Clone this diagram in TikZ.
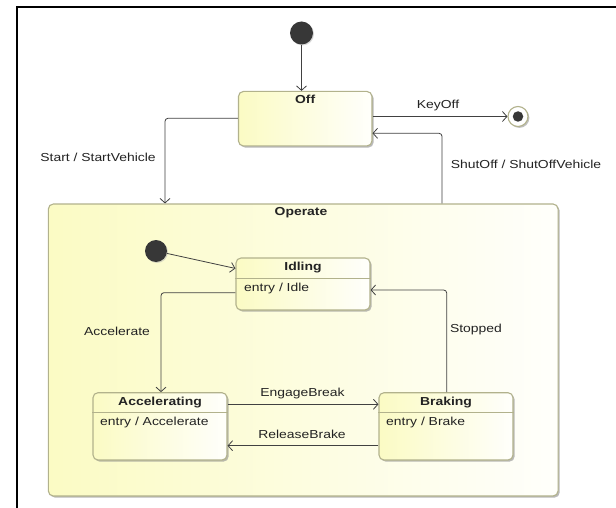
\documentclass[tikz,border=0pt]{standalone}
\usepackage{fontspec}
\setmainfont{Liberation Sans}[FakeStretch=1.2]
\usetikzlibrary{arrows.meta,shadows,calc}
\definecolor{stfill}{RGB}{251,251,196}
\definecolor{stline}{RGB}{178,178,140}
\definecolor{ink}{RGB}{65,65,65}
\definecolor{txt}{RGB}{35,35,35}
\definecolor{dotc}{RGB}{55,55,55}
\begin{document}
\begin{tikzpicture}[x=1pt,y=-1pt,
  statebox/.style={draw=stline, line width=1.1pt, rounded corners=5pt,
    left color=stfill, right color=white!94!stfill,
    drop shadow={shadow xshift=1.6pt, shadow yshift=-1.6pt, fill=black!45, opacity=0.6},
    inner sep=0pt},
  sepline/.style={draw=stline, line width=1pt},
  trans/.style={draw=ink, line width=0.8pt, rounded corners=3pt,
    -{Straight Barb[length=4.5pt,width=10pt,line width=0.8pt]}},
  lbl/.style={font=\fontsize{11.6}{14}\selectfont, text=txt, inner sep=0pt},
  ttl/.style={font=\fontsize{11.6}{14}\selectfont\bfseries, text=txt, inner sep=0pt, anchor=mid},
  entrytxt/.style={font=\fontsize{11.6}{14}\selectfont, text=txt, inner sep=0pt, anchor=mid west},
  initdot/.style={circle, fill=dotc, inner sep=0pt, minimum size=23pt,
    drop shadow={shadow xshift=1pt, shadow yshift=-1pt, fill=black!30, opacity=0.5}},
]
\useasboundingbox (0,0) rectangle (616,508);
\fill[white] (0,0) rectangle (616,508);
% frame
\draw[line width=2pt] (17,509) -- (17,7.5) -- (617,7.5);

% top-level states
\node[initdot] (i0) at (301.5,33) {};
\node[statebox, minimum width=133.5pt, minimum height=54.5pt] (off) at (305.2,118.7) {};
\node[ttl] (offT) at (305.2,101) {Off};
\node[circle, draw=stline, line width=1.1pt, fill=white, inner sep=0pt, minimum size=20pt,
  drop shadow={shadow xshift=1.4pt, shadow yshift=-1.4pt, fill=black!40, opacity=0.6}] (fin) at (518,116.5) {};
\node[circle, fill=dotc, inner sep=0pt, minimum size=10.5pt] (finIn) at (fin) {};

% composite state
\node[statebox, minimum width=509.7pt, minimum height=292pt] (op) at (303.2,350) {};
\node[ttl] (opT) at (301,213) {Operate};

\node[initdot, minimum size=22pt] (i1) at (156,251) {};

% Idling
\node[statebox, minimum width=134pt, minimum height=52pt] (idl) at (303,284) {};
\node[ttl] (idlT) at (303,268) {Idling};
\draw[sepline] (idl.west |- 0,278.7) -- (idl.east |- 0,278.7);
\node[entrytxt] (idlE) at (244,289) {entry / Idle};

% Accelerating
\node[statebox, minimum width=134pt, minimum height=67.3pt] (acc) at (160,426.35) {};
\node[ttl] (accT) at (160,402.5) {Accelerating};
\draw[sepline] (acc.west |- 0,412.7) -- (acc.east |- 0,412.7);
\node[entrytxt] (accE) at (100,422.5) {entry / Accelerate};

% Braking
\node[statebox, minimum width=134pt, minimum height=67.3pt] (brk) at (446,426.35) {};
\node[ttl] (brkT) at (446,402.5) {Braking};
\draw[sepline] (brk.west |- 0,412.7) -- (brk.east |- 0,412.7);
\node[entrytxt] (brkE) at (386,422.5) {entry / Brake};

% bend coordinates
\coordinate (sx) at (165,118.3);
\coordinate (shx) at (442,133.3);
\coordinate (ax) at (161,292.7);
\coordinate (ey) at (300,404.3);
\coordinate (ry) at (300,445.7);
\coordinate (sty) at (446.7,290);

% transitions
\draw[trans] (i0) -- (i0 |- off.north);
\draw[trans] (off.east |- fin) -- (fin);
\draw[trans] (off.west |- sx) -| (sx |- op.north);
\draw[trans] (shx |- op.north) |- (off.east |- shx);
\draw[trans] (i1) -- ($(idl.north west)+(0,11)$);
\draw[trans] (idl.west |- ax) -| (ax |- acc.north);
\draw[trans] (acc.east |- ey) -- (brk.west |- ey);
\draw[trans] (brk.west |- ry) -- (acc.east |- ry);
\draw[trans] (sty |- brk.north) |- (idl.east |- sty);

% labels
\node[lbl] (lKey) at (438,106) {KeyOff};
\node[lbl] (lStart) at (98,157) {Start / StartVehicle};
\node[lbl] (lShut) at (526,164) {ShutOff / ShutOffVehicle};
\node[lbl] (lAcc) at (117,331) {Accelerate};
\node[lbl] (lEng) at (302.5,393) {EngageBreak};
\node[lbl] (lRel) at (302,434.5) {ReleaseBrake};
\node[lbl] (lStop) at (476,329.5) {Stopped};
\end{tikzpicture}
\end{document}
